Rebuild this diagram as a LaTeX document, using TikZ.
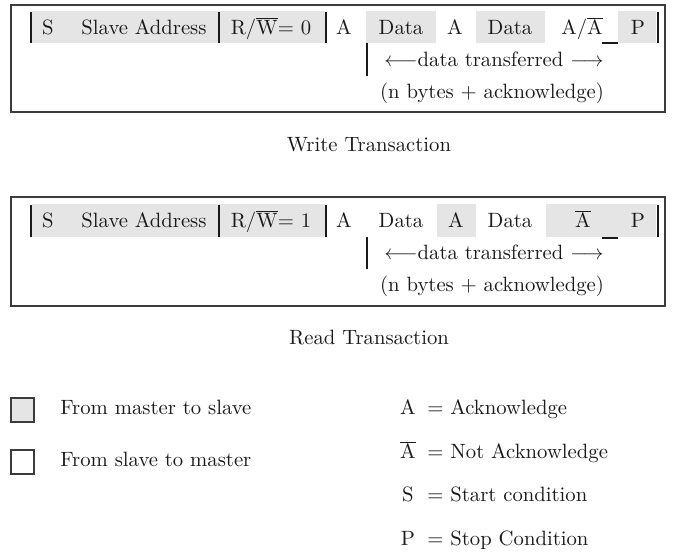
\documentclass[tikz,border=0pt]{standalone}
\definecolor{cellgray}{HTML}{E5E5E5}
\definecolor{ink}{HTML}{1A1A1A}
\begin{document}
\begin{tikzpicture}[x=0.4831pt,y=-0.4831pt,
  txt/.style={anchor=base,inner sep=0pt,text=ink},
  txtw/.style={anchor=base west,inner sep=0pt,text=ink},
  cell/.style={fill=cellgray,draw=none},
  bar/.style={draw=ink,line width=0.65pt},
  frame/.style={draw=ink!85,line width=0.7pt},
  under/.style={draw=ink,line width=0.7pt},
  legbox/.style={draw=ink!85,line width=0.75pt}]
\useasboundingbox (0,0) rectangle (673,554);

% ---------------- Write transaction ----------------
\draw[frame] (11,5) rectangle (665,112);
\fill[cell] (32,11) rectangle (325,43);
\fill[cell] (366,11) rectangle (436,43);
\fill[cell] (476,11) rectangle (545,43);
\fill[cell] (618,11) rectangle (656,43);
\coordinate (w-b1t) at (31,12);  \coordinate (w-b1b) at (31,43);
\coordinate (w-b2t) at (219,12); \coordinate (w-b2b) at (219,43);
\coordinate (w-b3t) at (326,12); \coordinate (w-b3b) at (326,43);
\coordinate (w-b4t) at (658,12); \coordinate (w-b4b) at (658,43);
\draw[bar] (w-b1t) -- (w-b1b);
\draw[bar] (w-b2t) -- (w-b2b);
\draw[bar] (w-b3t) -- (w-b3b);
\draw[bar] (w-b4t) -- (w-b4b);
\node[txt] (w-s)  at (48,35)  {S};
\node[txt] (w-sa) at (144,35) {Slave Address};
\node[txt] (w-rw) at (271,35) {R/$\overline{\mathrm{W}}$= 0};
\node[txt] (w-a1) at (344,35) {A};
\node[txt] (w-d1) at (401,35) {Data};
\node[txt] (w-a2) at (455,35) {A};
\node[txt] (w-d2) at (510,35) {Data};
\node[txt] (w-aa) at (582,35) {A/$\overline{\mathrm{A}}$};
\node[txt] (w-p)  at (638,35) {P};
\coordinate (w-u1) at (602,43); \coordinate (w-u2) at (618,43);
\draw[under] (w-u1) -- (w-u2);
\coordinate (w-tt) at (367,43); \coordinate (w-tb) at (367,76);
\draw[bar] (w-tt) -- (w-tb);
\node[txt] (w-dt) at (494,67) {$\longleftarrow$data transferred $\longrightarrow$};
\node[txt] (w-nb) at (492,99) {(n bytes + acknowledge)};
\node[txt] (w-title) at (369,152) {Write Transaction};

% ---------------- Read transaction ----------------
\draw[frame] (11,197) rectangle (665,306);
\fill[cell] (32,204) rectangle (325,237);
\fill[cell] (437,204) rectangle (476,237);
\fill[cell] (546,204) rectangle (656,237);
\coordinate (r-b1t) at (31,205);  \coordinate (r-b1b) at (31,237);
\coordinate (r-b2t) at (219,205); \coordinate (r-b2b) at (219,237);
\coordinate (r-b3t) at (326,205); \coordinate (r-b3b) at (326,237);
\coordinate (r-b4t) at (658,205); \coordinate (r-b4b) at (658,237);
\draw[bar] (r-b1t) -- (r-b1b);
\draw[bar] (r-b2t) -- (r-b2b);
\draw[bar] (r-b3t) -- (r-b3b);
\draw[bar] (r-b4t) -- (r-b4b);
\node[txt] (r-s)  at (48,228)  {S};
\node[txt] (r-sa) at (144,228) {Slave Address};
\node[txt] (r-rw) at (271,228) {R/$\overline{\mathrm{W}}$= 1};
\node[txt] (r-a1) at (344,228) {A};
\node[txt] (r-d1) at (401,228) {Data};
\node[txt] (r-a2) at (456,228) {A};
\node[txt] (r-d2) at (510,228) {Data};
\node[txt] (r-na) at (583,228) {$\overline{\mathrm{A}}$};
\node[txt] (r-p)  at (638,228) {P};
\coordinate (r-u1) at (602,238); \coordinate (r-u2) at (618,238);
\draw[under] (r-u1) -- (r-u2);
\coordinate (r-tt) at (367,237); \coordinate (r-tb) at (367,269);
\draw[bar] (r-tt) -- (r-tb);
\node[txt] (r-dt) at (494,260) {$\longleftarrow$data transferred $\longrightarrow$};
\node[txt] (r-nb) at (492,292) {(n bytes + acknowledge)};
\node[txt] (r-title) at (369,345) {Read Transaction};

% ---------------- Legend ----------------
\draw[legbox,fill=cellgray] (11,398) rectangle (34,422);
\draw[legbox] (11,450) rectangle (34,474);
\node[txtw] (l-m2s) at (60,415) {From master to slave};
\node[txtw] (l-s2m) at (60,467) {From slave to master};

\node[txt]  (k-a)  at (408,415) {A};
\node[txtw] (k-at) at (427,415) {$=$ Acknowledge};
\node[txt]  (k-n)  at (408,459) {$\overline{\mathrm{A}}$};
\node[txtw] (k-nt) at (427,459) {$=$ Not Acknowledge};
\node[txt]  (k-s)  at (408,502) {S};
\node[txtw] (k-st) at (427,502) {$=$ Start condition};
\node[txt]  (k-p)  at (408,546) {P};
\node[txtw] (k-pt) at (427,546) {$=$ Stop Condition};
\end{tikzpicture}
\end{document}
